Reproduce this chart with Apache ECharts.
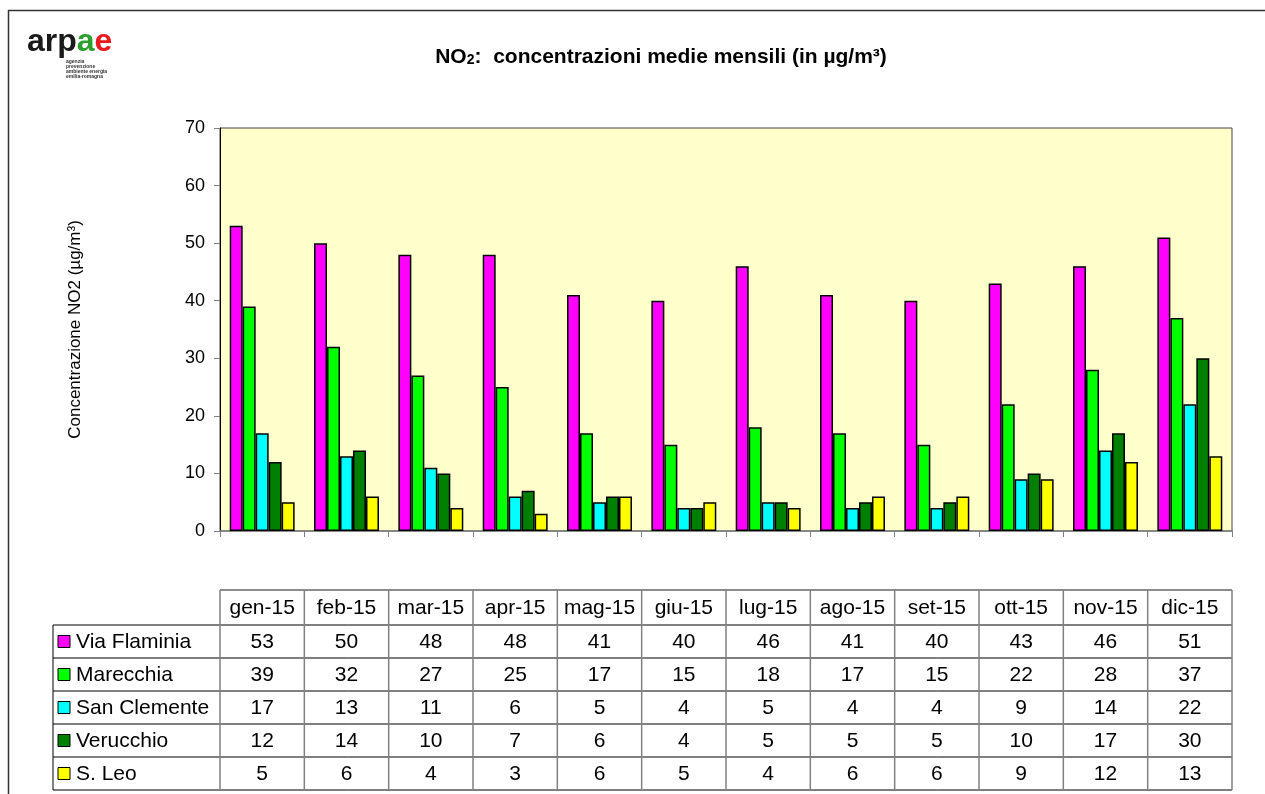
<!DOCTYPE html>
<html>
<head>
<meta charset="utf-8">
<script src="https://cdn.jsdelivr.net/npm/echarts@6/dist/echarts.min.js"></script>
<style>
  html, body { margin: 0; padding: 0; background: #fff; }
  #chart { width: 1265px; height: 794px; }
</style>
</head>
<body>
<div id="chart"></div>
<script>
// months and monthly means (µg/m3)
var months = ["gen-15", "feb-15", "mar-15", "apr-15", "mag-15", "giu-15",
  "lug-15", "ago-15", "set-15", "ott-15", "nov-15", "dic-15"];
var viaFlaminia = [53, 50, 48, 48, 41, 40, 46, 41, 40, 43, 46, 51];
var marecchia = [39, 32, 27, 25, 17, 15, 18, 17, 15, 22, 28, 37];
var sanClemente = [17, 13, 11, 6, 5, 4, 5, 4, 4, 9, 14, 22];
var verucchio = [12, 14, 10, 7, 6, 4, 5, 5, 5, 10, 17, 30];
var sLeo = [5, 6, 4, 3, 6, 5, 4, 6, 6, 9, 12, 13];

var stations = ["Via Flaminia", "Marecchia", "San Clemente", "Verucchio", "S. Leo"];
var values = [viaFlaminia, marecchia, sanClemente, verucchio, sLeo];
var colors = ["#FF00FF", "#00FF00", "#00FFFF", "#008000", "#FFFF00"];

var FONT = "Arial, 'Liberation Sans', sans-serif";

var chart = echarts.init(document.getElementById("chart"));

var series = stations.map(function (name, i) {
  return {
    name: name,
    type: "bar",
    data: values[i],
    barGap: "0%",
    barCategoryGap: "23%",
    itemStyle: { color: colors[i], borderColor: "#000", borderWidth: 1.5 }
  };
});

chart.setOption({
  animation: false,
  textStyle: { fontFamily: FONT },
  title: {
    text: "{b|NO}{s|2}{b|:  concentrazioni medie mensili (in µg/m³)}",
    left: 656,
    top: 40,
    textAlign: "center",
    textStyle: {
      rich: {
        b: { fontSize: 21, fontWeight: "bold", color: "#000", fontFamily: FONT, lineHeight: 24 },
        s: { fontSize: 14, fontWeight: "bold", color: "#000", fontFamily: FONT, lineHeight: 24, verticalAlign: "bottom", padding: [0, 0, 2, 0] }
      }
    }
  },
  grid: {
    left: 220, top: 128, right: 33, bottom: 263,
    show: true,
    backgroundColor: "#FFFFCC",
    borderColor: "#444",
    borderWidth: 1
  },
  xAxis: {
    type: "category",
    data: months,
    axisLine: { lineStyle: { color: "#808080", width: 1.5 } },
    axisTick: { show: true, length: 6, lineStyle: { color: "#808080" } },
    axisLabel: { show: false },
    splitLine: { show: false }
  },
  yAxis: {
    type: "value",
    min: 0, max: 70, interval: 10,
    name: "Concentrazione NO2 (µg/m³)",
    nameLocation: "middle",
    nameGap: 136,
    nameTextStyle: { fontSize: 17, color: "#000", fontFamily: FONT },
    axisLine: { show: true, lineStyle: { color: "#000", width: 1 } },
    axisTick: { show: true, length: 6, lineStyle: { color: "#808080" } },
    axisLabel: { fontSize: 18, color: "#000", margin: 15, fontFamily: FONT },
    splitLine: { show: false }
  },
  series: series
});

// table under the chart, columns aligned with the category axis
function buildGraphic() {
  var g = [];
  var x0 = chart.convertToPixel({ xAxisIndex: 0 }, 0);
  var x1 = chart.convertToPixel({ xAxisIndex: 0 }, 1);
  var step = x1 - x0;
  var left = x0 - step / 2;
  var right = left + step * months.length;
  var headTop = 590, rowTop = 625, rowH = 33;
  var legLeft = 53;
  var bottom = rowTop + rowH * stations.length;

  // outer frame
  g.push({ type: "line", shape: { x1: 8.5, y1: 10, x2: 8.5, y2: 794 }, style: { stroke: "#333", lineWidth: 1.5 } });
  g.push({ type: "line", shape: { x1: 8, y1: 10.5, x2: 1265, y2: 10.5 }, style: { stroke: "#333", lineWidth: 1.5 } });

  // horizontal lines
  g.push({ type: "line", shape: { x1: left, y1: headTop, x2: right, y2: headTop }, style: { stroke: "#666", lineWidth: 1.5 } });
  for (var r = 0; r <= stations.length; r++) {
    var y = rowTop + rowH * r;
    g.push({ type: "line", shape: { x1: legLeft, y1: y, x2: right, y2: y }, style: { stroke: "#000", lineWidth: 1 } });
  }
  // vertical lines
  g.push({ type: "line", shape: { x1: legLeft, y1: rowTop, x2: legLeft, y2: bottom }, style: { stroke: "#000", lineWidth: 1 } });
  for (var c = 0; c <= months.length; c++) {
    var x = left + step * c;
    g.push({ type: "line", shape: { x1: x, y1: headTop, x2: x, y2: bottom }, style: { stroke: "#808080", lineWidth: 1.5 } });
  }
  // header
  months.forEach(function (m, i) {
    g.push({ type: "text", x: chart.convertToPixel({ xAxisIndex: 0 }, i), y: headTop + 18,
      style: { text: m, fontSize: 21, fontFamily: FONT, fill: "#000", align: "center", verticalAlign: "middle" } });
  });
  // rows
  stations.forEach(function (s, r) {
    var cy = rowTop + rowH * r + rowH / 2;
    g.push({ type: "rect", shape: { x: 58, y: cy - 6, width: 12, height: 12 },
      style: { fill: colors[r], stroke: "#000", lineWidth: 1 } });
    g.push({ type: "text", x: 76, y: cy + 1,
      style: { text: s, fontSize: 21, fontFamily: FONT, fill: "#000", align: "left", verticalAlign: "middle" } });
    values[r].forEach(function (v, i) {
      g.push({ type: "text", x: chart.convertToPixel({ xAxisIndex: 0 }, i), y: cy + 1,
        style: { text: String(v), fontSize: 21, fontFamily: FONT, fill: "#000", align: "center", verticalAlign: "middle" } });
    });
  });

  // logo
  g.push({ type: "text", x: 27, y: 42,
    style: {
      text: "{k|arp}{g|a}{r|e}", verticalAlign: "middle",
      rich: {
        k: { fontSize: 32, fontWeight: "bold", fill: "#1a1a1a", fontFamily: FONT },
        g: { fontSize: 32, fontWeight: "bold", fill: "#2ca02c", fontFamily: FONT },
        r: { fontSize: 32, fontWeight: "bold", fill: "#e8191f", fontFamily: FONT }
      }
    } });
  ["agenzia", "prevenzione", "ambiente energia", "emilia-romagna"].forEach(function (t, i) {
    g.push({ type: "text", x: 66, y: 62 + i * 5,
      style: { text: t, fontSize: 5, fontWeight: "bold", fill: "#333", fontFamily: FONT, verticalAlign: "middle" } });
  });
  return g;
}

chart.setOption({ graphic: buildGraphic() });
</script>
</body>
</html>
